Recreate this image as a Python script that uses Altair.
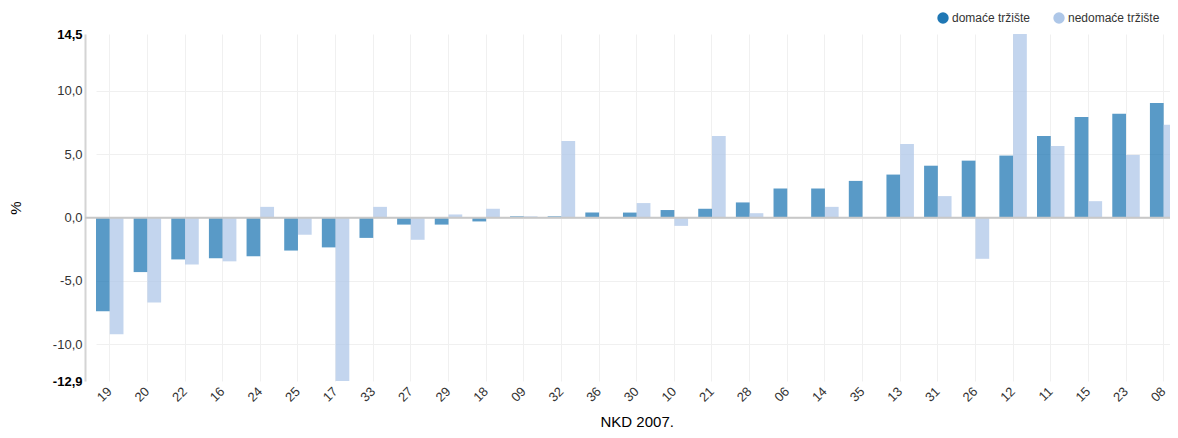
import altair as alt
import pandas as pd

categories = ["19", "20", "22", "16", "24", "25", "17", "33", "27", "29", "18", "09",
              "32", "36", "30", "10", "21", "28", "06", "14", "35", "13", "31", "26",
              "12", "11", "15", "23", "08"]
domestic = [-7.4, -4.3, -3.3, -3.2, -3.05, -2.6, -2.35, -1.6, -0.55, -0.55, -0.3, 0.1,
            0.1, 0.4, 0.4, 0.6, 0.7, 1.2, 2.3, 2.3, 2.9, 3.4, 4.1, 4.5,
            4.9, 6.45, 7.95, 8.2, 9.05]
foreign = [-9.2, -6.7, -3.7, -3.45, 0.85, -1.35, -12.9, 0.85, -1.75, 0.25, 0.7, 0.1,
           6.05, 0.05, 1.15, -0.65, 6.45, 0.35, 0.05, 0.85, 0.05, 5.82, 1.7, -3.25,
           14.5, 5.66, 1.3, 4.95, 7.33]
series_names = ["domaće tržište", "nedomaće tržište"]
series_colors = ["#1f77b4", "#aec7e8"]

rows = []
for c, d, f in zip(categories, domestic, foreign):
    rows.append({"nkd": c, "serija": series_names[0], "v": d})
    rows.append({"nkd": c, "serija": series_names[1], "v": f})
df = pd.DataFrame(rows)

ymin, ymax = -12.9, 14.5
tick_vals = [ymin, -10, -5, 0, 5, 10, ymax]
label_expr = "(datum.value < 0 ? '-' : '') + replace(format(abs(datum.value), '.1f'), '.', ',')"
edge_test = "datum.value == 14.5 || datum.value == -12.9"

yscale = alt.Scale(domain=[ymin, ymax], nice=False, zero=False)

y_axis = alt.Axis(
    values=tick_vals,
    labelExpr=label_expr,
    labelFontWeight={"condition": {"test": edge_test, "value": "bold"}, "value": "normal"},
    labelColor={"condition": {"test": edge_test, "value": "#000000"}, "value": "#333333"},
    gridOpacity={"condition": {"test": edge_test, "value": 0}, "value": 1},
    gridColor="#f0f0f0",
    domainColor="#d4d4d4",
    domainWidth=2,
    ticks=False,
    labelPadding=3,
    labelFontSize=13,
    title="%",
    titleAngle=-90,
    titleX=-70,
    titleY=173.5,
    titleAlign="center",
    titleBaseline="middle",
    titleFontSize=15,
    titleFontWeight="normal",
    titleColor="#000000",
)

x_axis = alt.Axis(
    labelAngle=-45,
    labelAlign="right",
    labelBaseline="middle",
    labelPadding=8,
    labelFontSize=13,
    labelColor="#333333",
    ticks=False,
    domain=False,
    grid=True,
    gridColor="#f0f0f0",
    bandPosition=0.5,
    title="NKD 2007.",
    titleFontSize=15,
    titleFontWeight="normal",
    titleColor="#000000",
    titleY=45,
    titleBaseline="alphabetic",
)

bars = alt.Chart(df).mark_bar(fillOpacity=0.74, clip=True).encode(
    x=alt.X("nkd:N", sort=categories,
            scale=alt.Scale(range=[11, 1092.4], paddingInner=0.27, paddingOuter=0),
            axis=x_axis),
    xOffset=alt.XOffset("serija:N", sort=series_names),
    y=alt.Y("v:Q", scale=yscale, axis=y_axis),
    color=alt.Color(
        "serija:N",
        scale=alt.Scale(domain=series_names, range=series_colors),
        legend=alt.Legend(
            title=None,
            orient="none",
            direction="horizontal",
            legendX=852,
            legendY=-22,
            symbolType="circle",
            symbolSize=130,
            symbolOpacity=1,
            symbolStrokeWidth=0,
            labelFontSize=12,
            labelColor="#333333",
            labelOffset=3,
            columnPadding=22,
            padding=0,
        ),
    ),
)

zero = alt.Chart(pd.DataFrame({"v": [0.0]})).mark_rule(color="#c8c8c8", strokeWidth=2).encode(
    y=alt.Y("v:Q", scale=yscale, title="%")
)

chart = alt.layer(bars, zero).properties(
    width=1085,
    height=347,
    autosize=alt.AutoSizeParams(type="none"),
    padding={"left": 77, "top": 26, "right": 0, "bottom": 49},
).configure(
    font="Liberation Sans",
    background="white",
).configure_view(stroke=None)

chart.save("out.html", embed_options={"renderer": "svg", "actions": False})
